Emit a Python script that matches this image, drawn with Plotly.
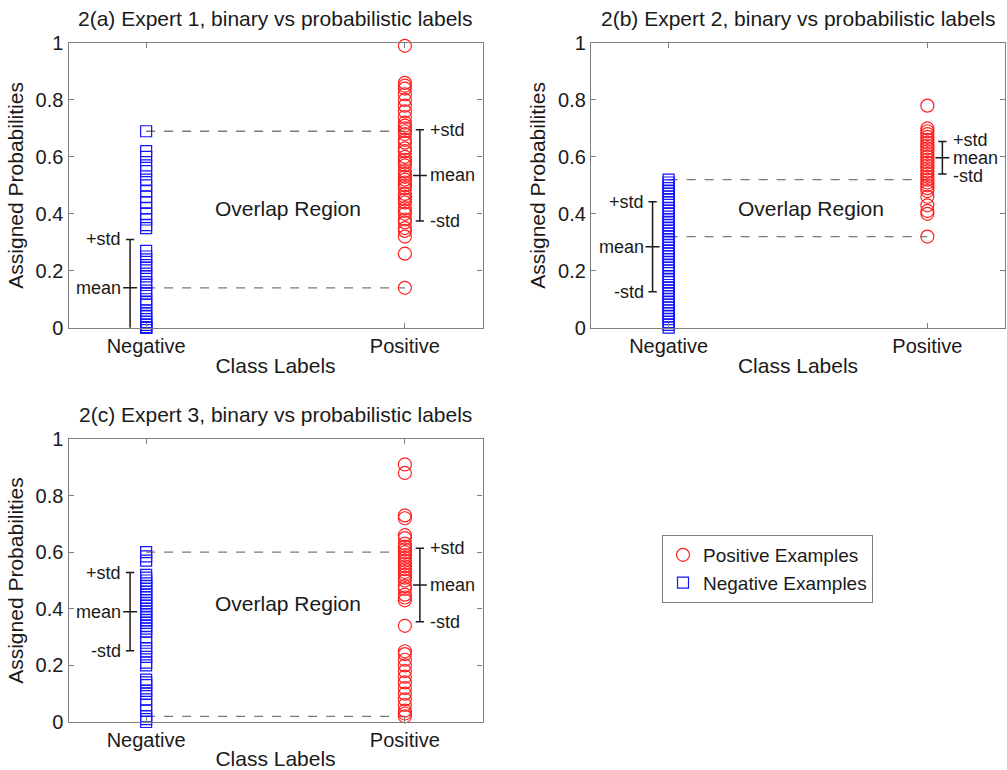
import plotly.graph_objects as go

# ---------------- data ----------------
categories = ["Negative", "Positive"]
panel_titles = [
    "2(a) Expert 1, binary vs probabilistic labels",
    "2(b) Expert 2, binary vs probabilistic labels",
    "2(c) Expert 3, binary vs probabilistic labels",
]

neg_a = [0.69, 0.62, 0.60, 0.57, 0.55, 0.52, 0.50, 0.48, 0.46, 0.44, 0.42, 0.40,
         0.38, 0.36, 0.35, 0.27, 0.25, 0.24, 0.22, 0.21, 0.19, 0.18, 0.16, 0.15,
         0.13, 0.12, 0.10, 0.09, 0.08, 0.06, 0.05, 0.04, 0.03, 0.02, 0.01,
         0.0, 0.0, 0.0, 0.0, 0.0]
pos_a = [0.99, 0.86, 0.85, 0.84, 0.82, 0.80, 0.78, 0.76, 0.74, 0.72, 0.71, 0.70,
         0.69, 0.68, 0.66, 0.65, 0.63, 0.62, 0.60, 0.59, 0.58, 0.57, 0.55, 0.54,
         0.53, 0.52, 0.51, 0.50, 0.49, 0.47, 0.46, 0.45, 0.44, 0.42, 0.41, 0.40,
         0.38, 0.37, 0.35, 0.34, 0.32, 0.26, 0.14]

neg_b = [0.52, 0.51, 0.50, 0.49, 0.48, 0.47, 0.46, 0.45, 0.44, 0.42, 0.41, 0.40,
         0.39, 0.38, 0.37, 0.36, 0.35, 0.34, 0.33, 0.32, 0.31, 0.30, 0.29, 0.28,
         0.27, 0.26, 0.25, 0.24, 0.23, 0.22, 0.21, 0.20, 0.18, 0.17, 0.16, 0.15,
         0.14, 0.13, 0.12, 0.11, 0.10, 0.09, 0.08, 0.07, 0.06, 0.05, 0.04, 0.03,
         0.02, 0.01, 0.0]
pos_b = [0.78, 0.70, 0.69, 0.68, 0.67, 0.66, 0.65, 0.64, 0.63, 0.62, 0.61, 0.60,
         0.59, 0.58, 0.57, 0.56, 0.55, 0.54, 0.53, 0.52, 0.51, 0.50, 0.49, 0.48,
         0.46, 0.43, 0.41, 0.40, 0.32]

neg_c = [0.60, 0.585, 0.57, 0.52, 0.51, 0.50, 0.49, 0.48, 0.47, 0.46, 0.45, 0.44,
         0.43, 0.42, 0.41, 0.40, 0.39, 0.38, 0.37, 0.36, 0.35, 0.34, 0.33, 0.32,
         0.30, 0.28, 0.26, 0.25, 0.23, 0.21, 0.20, 0.15, 0.14, 0.13, 0.11, 0.10,
         0.08, 0.06, 0.04, 0.02, 0.01, 0.0]
pos_c = [0.91, 0.88, 0.73, 0.72, 0.66, 0.65, 0.63, 0.62, 0.61, 0.60, 0.59, 0.58,
         0.57, 0.56, 0.55, 0.54, 0.53, 0.52, 0.51, 0.50, 0.48, 0.47, 0.45, 0.44,
         0.43, 0.34, 0.25, 0.24, 0.22, 0.20, 0.18, 0.16, 0.14, 0.12, 0.10, 0.08,
         0.06, 0.04, 0.03, 0.02]

neg_mean = [0.14, 0.284, 0.39]
neg_std = [0.17, 0.158, 0.138]
pos_mean = [0.535, 0.597, 0.484]
pos_std = [0.16, 0.057, 0.13]

neg_series = [neg_a, neg_b, neg_c]
pos_series = [pos_a, pos_b, pos_c]

# ---------------- styling ----------------
FONT = "Liberation Sans, Arial, sans-serif"
TXT = "#1a1a1a"
AXC = "#7f7f7f"
RED = "#ff2020"
BLUE = "#1515ff"

W, H = 1007, 770
domains = [
    ((68.5 / W, 482.5 / W), (1 - 327.7 / H, 1 - 43 / H)),
    ((591 / W, 1005 / W), (1 - 327.7 / H, 1 - 43 / H)),
    ((68.5 / W, 482.5 / W), (1 - 722 / H, 1 - 439 / H)),
]
PLOT_H = 284.7  # pixel height of each plot area

fig = go.Figure()
annotations = []
layout_axes = {}

NEG_EB = 0.938
POS_EB = 2.058
CAP = 0.016
MTICK = 0.027

for i in range(3):
    sfx = "" if i == 0 else str(i + 1)
    xr, yr = "x" + sfx, "y" + sfx
    neg, pos = neg_series[i], pos_series[i]
    hi_neg, lo_pos = max(neg), min(pos)

    # dashed overlap boundaries
    for yv in (hi_neg, lo_pos):
        fig.add_trace(go.Scatter(x=[1, 2], y=[yv, yv], mode="lines",
                                 line=dict(color="#7a7a7a", width=1.3, dash="dash"),
                                 xaxis=xr, yaxis=yr, showlegend=False, hoverinfo="skip"))

    # markers
    fig.add_trace(go.Scatter(x=[1] * len(neg), y=neg, mode="markers",
                             marker=dict(symbol="square-open", size=11,
                                         color=BLUE, line=dict(width=1.2, color=BLUE)),
                             name="Negative Examples", legendrank=2,
                             showlegend=(i == 0), cliponaxis=False,
                             xaxis=xr, yaxis=yr))
    fig.add_trace(go.Scatter(x=[2] * len(pos), y=pos, mode="markers",
                             marker=dict(symbol="circle-open", size=13,
                                         color=RED, line=dict(width=1.2, color=RED)),
                             name="Positive Examples", legendrank=1,
                             showlegend=(i == 0), cliponaxis=False,
                             xaxis=xr, yaxis=yr))

    # mean +/- std bars
    for xc, m, s, side in ((NEG_EB, neg_mean[i], neg_std[i], "left"),
                           (POS_EB, pos_mean[i], pos_std[i], "right")):
        lo, hi = m - s, m + s
        xs = [xc, xc, None, xc - CAP, xc + CAP, None, xc - CAP, xc + CAP, None,
              xc - MTICK, xc + MTICK]
        ys = [lo, hi, None, hi, hi, None, lo, lo, None, m, m]
        fig.add_trace(go.Scatter(x=xs, y=ys, mode="lines",
                                 line=dict(color=TXT, width=1.5),
                                 xaxis=xr, yaxis=yr, showlegend=False, hoverinfo="skip"))
        gap_px = s * PLOT_H
        nudge = max(0.0, (20 - gap_px) / 2)
        for lab, yv, shift in (("+std", hi, nudge), ("mean", m, 0), ("-std", lo, -nudge)):
            if yv < 0:
                continue
            if side == "left":
                annotations.append(dict(x=xc - 0.03, y=yv, xref=xr, yref=yr, text=lab,
                                        showarrow=False, xanchor="right", yanchor="middle",
                                        yshift=shift, borderpad=0,
                                        font=dict(size=18, color=TXT, family=FONT)))
            else:
                annotations.append(dict(x=xc + 0.036, y=yv, xref=xr, yref=yr, text=lab,
                                        showarrow=False, xanchor="left", yanchor="middle",
                                        yshift=shift, borderpad=0,
                                        font=dict(size=18, color=TXT, family=FONT)))

    annotations.append(dict(x=1.55, y=0.42, xref=xr, yref=yr, text="Overlap Region",
                            showarrow=False, xanchor="center", yanchor="middle",
                            font=dict(size=21, color=TXT, family=FONT)))

    # panel title
    dx, dy = domains[i]
    annotations.append(dict(x=(dx[0] + dx[1]) / 2, y=dy[1] + 25 / H, xref="paper", yref="paper",
                            text=panel_titles[i], showarrow=False, xanchor="center",
                            yanchor="middle", font=dict(size=21, color=TXT, family=FONT)))

    layout_axes["xaxis" + sfx] = dict(
        domain=list(dx), range=[0.7, 2.3], tickmode="array", tickvals=[1, 2],
        ticktext=categories, ticks="inside", ticklen=5, tickcolor=AXC,
        showline=True, linecolor=AXC, linewidth=1.3, mirror="ticks",
        showgrid=False, zeroline=False, anchor=yr, automargin=False,
        tickfont=dict(size=20, color=TXT, family=FONT),
        title=dict(text="Class Labels", standoff=2,
                   font=dict(size=21, color=TXT, family=FONT)))
    layout_axes["yaxis" + sfx] = dict(
        domain=list(dy), range=[0, 1], tickmode="array",
        tickvals=[0, 0.2, 0.4, 0.6, 0.8, 1],
        ticktext=["0", "0.2", "0.4", "0.6", "0.8", "1"],
        ticks="inside", ticklen=5, tickcolor=AXC,
        showline=True, linecolor=AXC, linewidth=1.3, mirror="ticks",
        showgrid=False, zeroline=False, anchor=xr, automargin=False,
        tickfont=dict(size=20, color=TXT, family=FONT),
        title=dict(text="Assigned Probabilities", standoff=6,
                   font=dict(size=21, color=TXT, family=FONT)))

fig.update_layout(
    width=W, height=H,
    margin=dict(l=0, r=0, t=0, b=0, autoexpand=False),
    plot_bgcolor="white", paper_bgcolor="white",
    font=dict(family=FONT, color=TXT),
    annotations=annotations,
    legend=dict(x=662 / W, y=1 - 535 / H, xanchor="left", yanchor="top",
                bordercolor=AXC, borderwidth=1, bgcolor="white",
                font=dict(size=19, color=TXT, family=FONT),
                tracegroupgap=0, itemwidth=30),
    **layout_axes,
)

fig.write_html("out.html",
               config={"displayModeBar": False},
               post_script="document.body.style.margin='0';document.body.style.padding='0';")
